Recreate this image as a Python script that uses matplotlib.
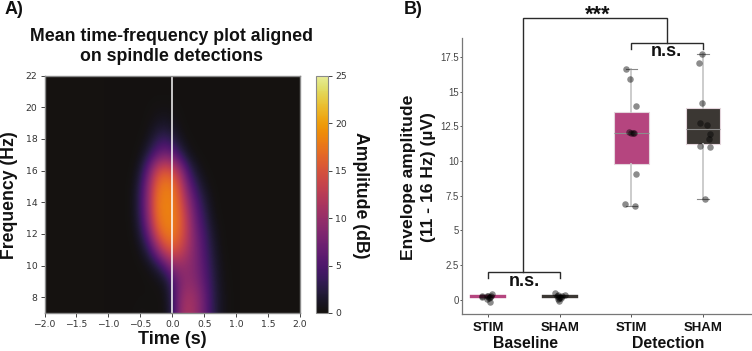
import numpy as np
import matplotlib
matplotlib.use("Agg")
import matplotlib.pyplot as plt
from matplotlib.colors import ListedColormap
from matplotlib.cm import ScalarMappable
from matplotlib.colors import Normalize

W, H = 752, 351
SANS = "Liberation Sans"

# ---- Panel A data: amplitude (dB), rows = frequency, columns = time
times = [-1, -.875, -.75, -.625, -.5, -.375, -.25, -.125, 0, .125, .25, .375, .5, .625, .75, .875, 1]
freqs = [7, 8, 9, 10, 11, 12, 13, 14, 15, 16, 17, 18, 19, 20, 21, 22]
amp_7  = [0, 0, 0, .1, .3, .2, .1, .3, 2.5, 9.5, 11.5, 10, 7, 3.5, 1.2, .3, 0]
amp_8  = [0, 0, 0, 0, .1, .1, .1, .4, 3, 9, 11, 10, 7, 3.5, 1.2, .3, 0]
amp_9  = [0, 0, 0, 0, 0, .1, .3, 1, 4, 8, 9.5, 8.5, 6, 3.2, 1, .2, 0]
amp_10 = [0, 0, 0, 0, .1, .6, 2, 5, 9, 10, 9.5, 8, 5.5, 2.8, .8, .1, 0]
amp_11 = [0, 0, 0, 0, .7, 3, 8, 13.5, 15.5, 14, 11, 8, 5, 2.3, .5, 0, 0]
amp_12 = [0, 0, 0, .2, 2, 6.5, 14, 17.5, 18, 16, 12, 7.5, 4.5, 1.8, .3, 0, 0]
amp_13 = [0, 0, 0, .4, 3, 9, 16.5, 18.3, 18.3, 16.5, 11.5, 6.5, 3.5, 1, .1, 0, 0]
amp_14 = [0, 0, 0, .5, 3.5, 9.5, 17, 18.3, 18.3, 15.5, 10, 5.5, 2.5, .6, 0, 0, 0]
amp_15 = [0, 0, 0, .4, 3, 9, 16, 18, 17.8, 14, 7.5, 3.5, 1.2, .2, 0, 0, 0]
amp_16 = [0, 0, 0, .1, 1.8, 6.5, 13, 15.5, 14.5, 10.5, 4.5, 1.5, .3, 0, 0, 0, 0]
amp_17 = [0, 0, 0, 0, .5, 2.5, 5.5, 7.5, 6.5, 3.5, 1, .2, 0, 0, 0, 0, 0]
amp_18 = [0, 0, 0, 0, .1, .8, 2.5, 3.5, 2.5, 1, .2, 0, 0, 0, 0, 0, 0]
amp_19 = [0, 0, 0, 0, 0, .3, .8, 1.2, .8, .3, 0, 0, 0, 0, 0, 0, 0]
amp_20 = [0, 0, 0, 0, 0, .1, .3, .3, .3, .1, 0, 0, 0, 0, 0, 0, 0]
amp_21 = [0] * 17
amp_22 = [0] * 17
cbar_ticks = [0, 5, 10, 15, 20, 25]
time_ticks = [-2, -1.5, -1, -.5, 0, .5, 1, 1.5, 2]
freq_ticks = [8, 10, 12, 14, 16, 18, 20, 22]

# ---- Panel B data
cond_labels = ["STIM", "SHAM", "STIM", "SHAM"]
group_labels = ["Baseline", "Detection"]
y_ticks = [0, 2.5, 5, 7.5, 10, 12.5, 15, 17.5]
y_tick_labels = ["0", "2.5", "5", "7.5", "10", "12.5", "15", "17.5"]
box_q1 = [.2, .2, 9.8, 11.25]
box_med = [.25, .25, 12.05, 12.3]
box_q3 = [.3, .3, 13.5, 13.85]
whisk_lo = [-.14, -.14, 6.73, 7.28]
whisk_hi = [.4, .45, 16.6, 17.74]
y_stim_base = [.24, .2, .24, .28, .4, -.14, .05, .3, .15, .22]
x_stim_base = [-.09, -.09, -.02, 0, .05, .03, -.02, .04, .01, .03]
y_sham_base = [.47, .33, .3, .37, .02, -.12, .2, .15, .1, .28]
x_sham_base = [-.07, -.03, .03, .07, -.02, -.01, 0, .02, -.01, -.04]
y_stim_det = [16.6, 15.9, 14.0, 12.07, 12.05, 12.05, 12.03, 9.04, 6.92, 6.73]
x_stim_det = [-.08, -.02, .07, -.04, 0, .02, .04, .06, -.09, .05]
y_sham_det = [17.74, 17.07, 14.2, 12.74, 12.6, 11.97, 11.56, 11.1, 11.0, 7.28]
x_sham_det = [-.02, -.06, -.02, -.05, .05, .1, .08, -.04, .1, .02]

amp = np.array([amp_7, amp_8, amp_9, amp_10, amp_11, amp_12, amp_13, amp_14,
                amp_15, amp_16, amp_17, amp_18, amp_19, amp_20, amp_21, amp_22], dtype=float)

fig = plt.figure(figsize=(W / 100, H / 100), dpi=100, facecolor="white")


def px_axes(x0, y0, x1, y1):
    return fig.add_axes([x0 / W, 1 - y1 / H, (x1 - x0) / W, (y1 - y0) / H])


def px_text(x, y, s, **kw):
    kw.setdefault("family", SANS)
    kw.setdefault("fontweight", "bold")
    kw.setdefault("ha", "center")
    kw.setdefault("va", "center")
    kw.setdefault("color", "#111111")
    fig.text(x / W, 1 - y / H, s, **kw)


base = plt.get_cmap("inferno")(np.linspace(0, 1, 256))[:, :3]
base = base * 0.93 + np.array([.08, .07, .05]) * (1 - np.linspace(0, 1, 256))[:, None]
cmap = ListedColormap(np.clip(base, 0, 1))
norm = Normalize(0, 25)

# ---- Panel A
axa = px_axes(44.5, 75.7, 300, 313)
axa.set_facecolor(cmap(0))
dt = (times[1] - times[0]) / 2
axa.imshow(amp, origin="lower", aspect="auto", cmap=cmap, norm=norm, interpolation="bicubic",
           extent=(times[0] - dt, times[-1] + dt, freqs[0] - .5, freqs[-1] + .5))
axa.set_xlim(-2, 2)
axa.set_ylim(7, 22)
axa.axvline(0, color="white", lw=1.2, alpha=.9)
axa.set_xticks(time_ticks)
axa.set_yticks(freq_ticks)
axa.tick_params(labelsize=6.7, length=3, width=.7, color="#444444", labelcolor="#333333", pad=2)
for s in axa.spines.values():
    s.set_color("#8a8a8a")
    s.set_linewidth(1)

cax = px_axes(316, 75.7, 328, 313)
cb = fig.colorbar(ScalarMappable(norm=norm, cmap=cmap), cax=cax, ticks=cbar_ticks)
cax.tick_params(labelsize=6.7, length=3, width=.7, color="#444444", labelcolor="#333333", pad=2)
cb.outline.set_edgecolor("#8a8a8a")
cb.outline.set_linewidth(.8)

px_text(14, 9, "A)", fontsize=13)
px_text(171.5, 46.5, "Mean time-frequency plot aligned\non spindle detections", fontsize=12.75, linespacing=1.2)
px_text(9.5, 195, "Frequency (Hz)", fontsize=12.7, rotation=90)
px_text(172, 340, "Time (s)", fontsize=13)
px_text(361, 195, "Amplitude (dB)", fontsize=12.7, rotation=270)

# ---- Panel B
axb = px_axes(462.3, 38, 752, 314)
axb.set_xlim(-.358, 3.68)
axb.set_ylim(-1.03, 18.87)
stats = [dict(med=m, q1=a, q3=b, whislo=l, whishi=h, fliers=[])
         for m, a, b, l, h in zip(box_med, box_q1, box_q3, whisk_lo, whisk_hi)]
colors = ["#b5457f", "#3b3733", "#b5457f", "#3b3733"]
res = axb.bxp(stats, positions=range(4), widths=.475, patch_artist=True, showfliers=False,
              boxprops=dict(edgecolor="#e4d5dc", linewidth=.8),
              medianprops=dict(color="#8c8c8c", linewidth=.8),
              whiskerprops=dict(color="#c8c8c8", linewidth=1.3),
              capprops=dict(color="#888888", linewidth=.8), capwidths=.16)
for box, c in zip(res["boxes"], colors):
    box.set_facecolor(c)
for i in (0, 1):
    res["boxes"][i].set_edgecolor(colors[i])
    res["boxes"][i].set_linewidth(1.7)
    res["medians"][i].set_visible(False)
    for art in res["caps"][2 * i:2 * i + 2] + res["whiskers"][2 * i:2 * i + 2]:
        art.set_visible(False)
for i, (xs, ys) in enumerate([(x_stim_base, y_stim_base), (x_sham_base, y_sham_base),
                              (x_stim_det, y_stim_det), (x_sham_det, y_sham_det)]):
    axb.scatter(np.array(xs) + i, ys, s=22, color="black", alpha=.45, linewidths=0, zorder=4)

axb.set_xticks(range(4))
axb.set_xticklabels(cond_labels, family=SANS, fontweight="bold", fontsize=9.5, color="#111111")
axb.set_yticks(y_ticks)
axb.set_yticklabels(y_tick_labels, family=SANS, fontsize=6.9, color="#444444")
axb.tick_params(axis="y", length=1.5, width=.7, color="#555555", pad=1)
axb.tick_params(axis="x", length=2.5, width=.7, color="#555555", pad=3.5)
for s in ("top", "right"):
    axb.spines[s].set_visible(False)
for s in ("left", "bottom"):
    axb.spines[s].set_color("#777777")
    axb.spines[s].set_linewidth(.9)


def bracket(xs, ys):
    axb.plot(xs, ys, color="#2a2a2a", lw=1, clip_on=False, zorder=5, solid_joinstyle="miter")


bracket([0, 0, 1, 1], [1.54, 2.02, 2.02, 1.54])
bracket([2, 2, 3, 3], [18.08, 18.49, 18.49, 18.08])
bracket([.484, .484, 2.49, 2.49], [2.02, 20.3, 20.3, 18.49])

px_text(524, 281, "n.s.", fontsize=13)
px_text(666.5, 52, "n.s.", fontsize=13)
px_text(597.7, 15, "***", fontsize=15.5)
px_text(413, 9, "B)", fontsize=13)
px_text(418.5, 177, "Envelope amplitude\n(11 - 16 Hz) (µV)", fontsize=12.6, rotation=90, linespacing=1.35)
px_text(525, 344, group_labels[0], fontsize=11.4)
px_text(668, 344, group_labels[1], fontsize=11.4)

fig.savefig("out.png", dpi=100)
